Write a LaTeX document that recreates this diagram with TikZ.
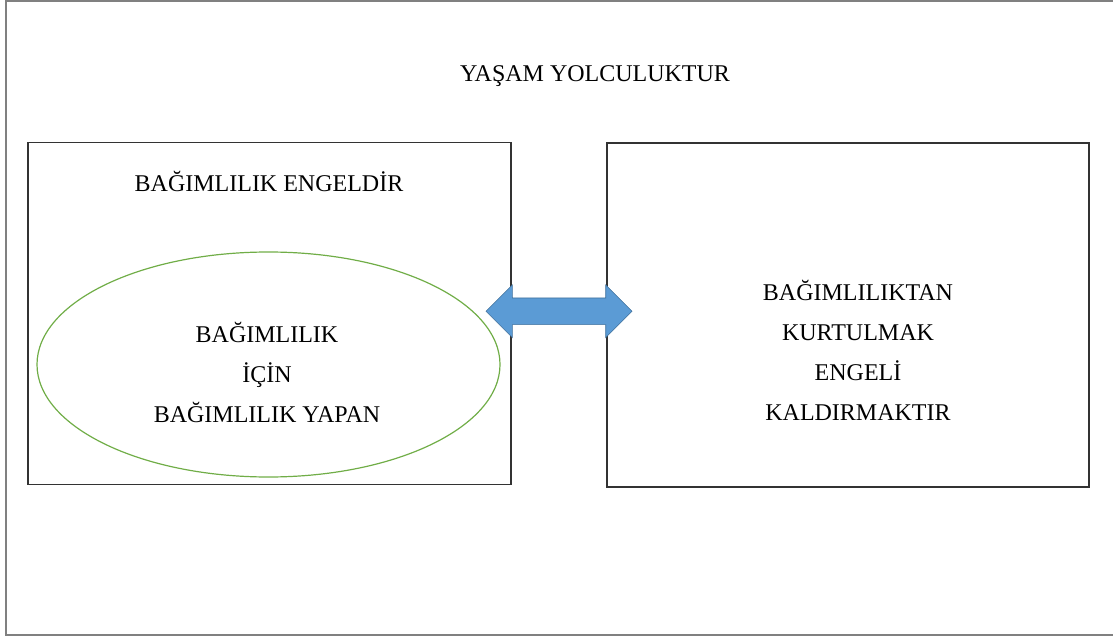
\documentclass[tikz,border=0pt]{standalone}
\usepackage{fontspec}
\setmainfont{Liberation Serif}
\usetikzlibrary{shapes.geometric,shapes.arrows,positioning,calc}
\definecolor{okmavi}{HTML}{5B9BD5}
\definecolor{okkenar}{HTML}{41719C}
\definecolor{yesil}{HTML}{70AD47}
\definecolor{cerceve}{HTML}{808080}
\tikzset{
  yazi/.style={
    font = \fontsize{24}{40}\selectfont,
    align = center,
    inner sep = 0pt
  },
  kutu/.style={
    shape = rectangle,
    draw = black!80,
    line width = 1.6pt,
    inner sep = 0pt
  },
  halka/.style={
    shape = ellipse,
    draw = yesil,
    line width = 1.2pt,
    inner sep = 0pt
  },
  ciftok/.style={
    shape = double arrow,
    fill = okmavi,
    draw = okkenar,
    line width = 0.6pt,
    inner xsep = 0pt,
    inner ysep = 13pt,
    double arrow tip angle = 90,
    double arrow head extend = 13pt,
    minimum height = 146pt
  }
}
\begin{document}
\begin{tikzpicture}[x=1pt,y=-1pt]
  \useasboundingbox (0,0) rectangle (1113,639);
  % dis cerceve
  \draw[cerceve, line width=2pt] (6,1) rectangle (1120,635);

  \node[yazi] (baslik) at (595,76) {YAŞAM YOLCULUKTUR};

  \node[kutu, minimum width=483pt, minimum height=342pt] (engel) at (269.5,313.5) {};
  \node[kutu, minimum width=482pt, minimum height=344pt] (kurtul) at (848,315) {};

  \node[yazi] (engelyazi) at (269,181) {BAĞIMLILIK ENGELDİR};
  \node[halka, minimum width=463pt, minimum height=225pt] (bagimli) at (268.5,364.5) {};
  \node[yazi] (bagimliyazi) at (267,372) {BAĞIMLILIK\\İÇİN\\BAĞIMLILIK YAPAN};

  \node[yazi] (kurtulyazi) at (858,350) {BAĞIMLILIKTAN\\KURTULMAK\\ENGELİ\\KALDIRMAKTIR};

  \node[ciftok] (ok) at ($(engel.east)!0.5!(kurtul.west)+(0,-3)$) {};
\end{tikzpicture}
\end{document}
